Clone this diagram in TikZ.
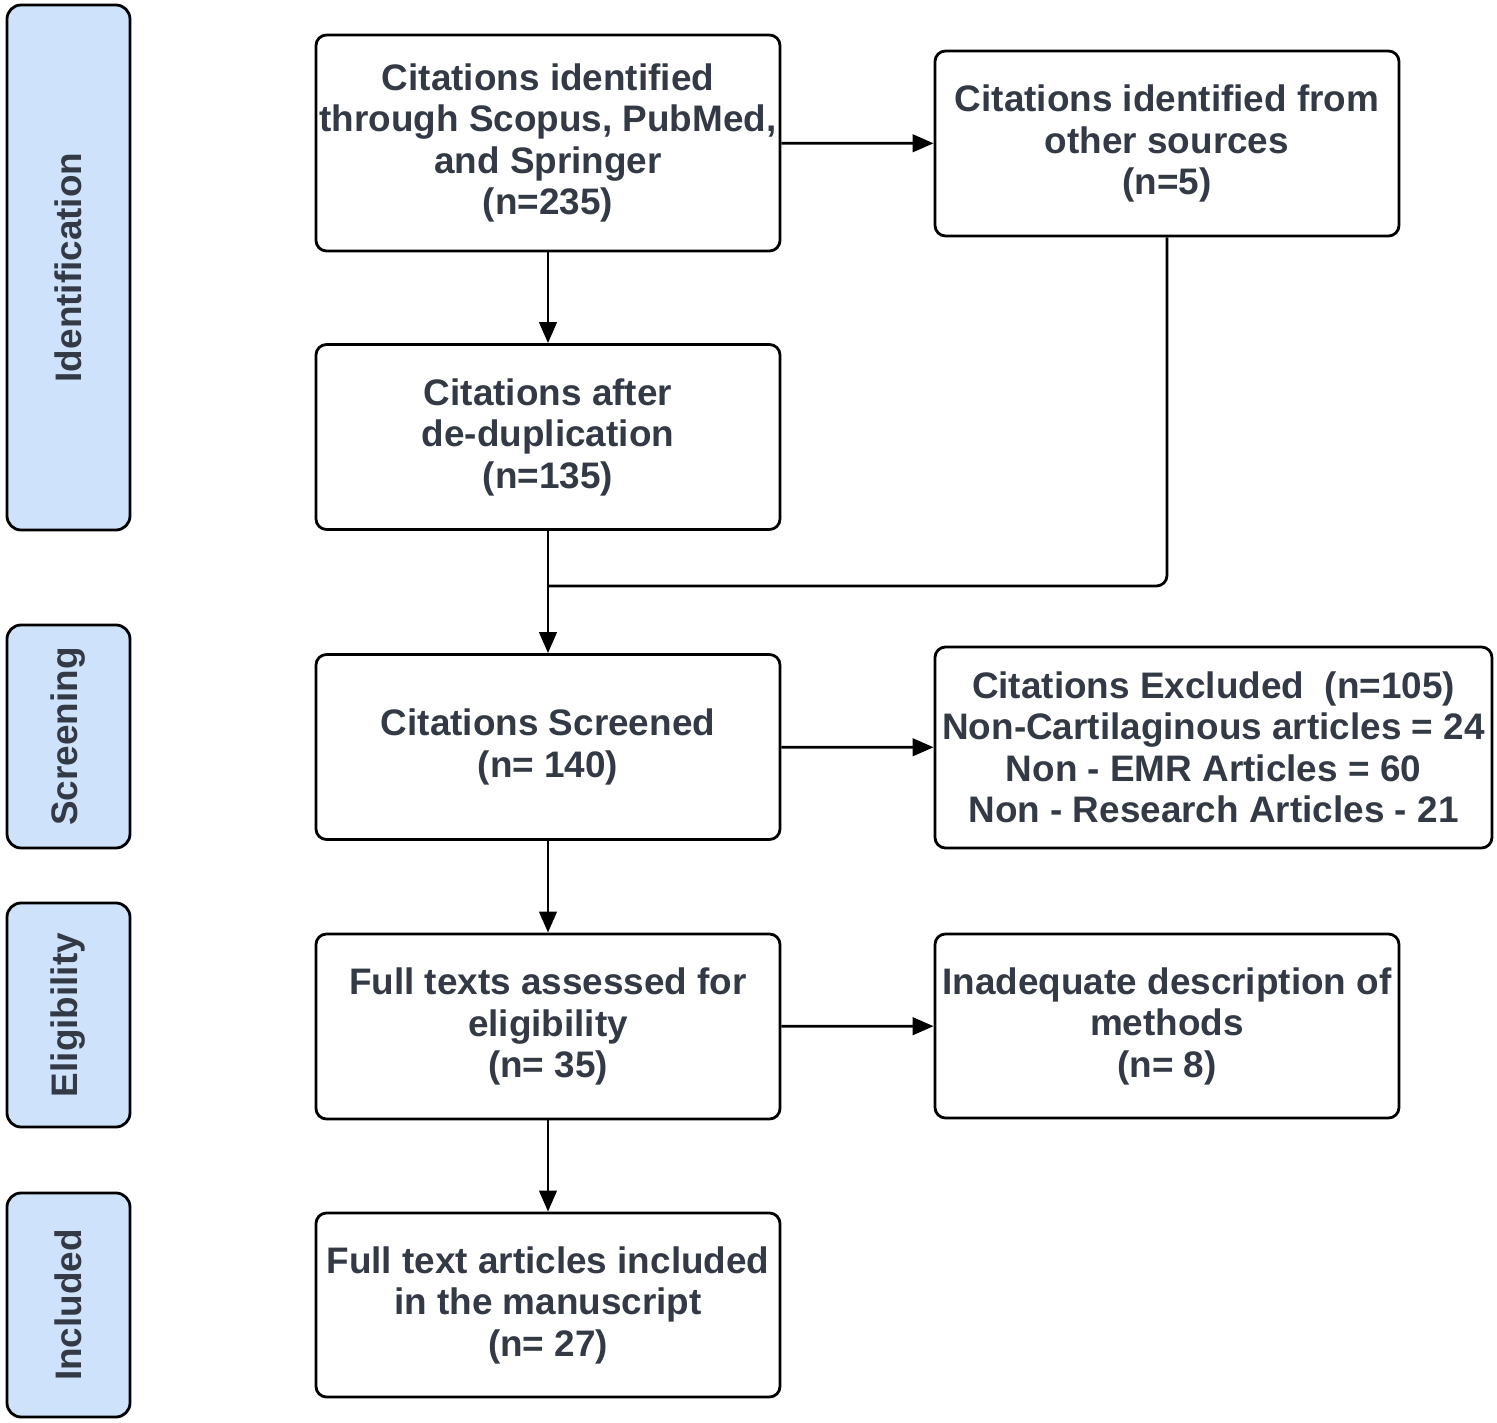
\documentclass[tikz,border=0pt]{standalone}
\usepackage{fontspec}
\setmainfont{Liberation Sans}
\usetikzlibrary{arrows.meta, positioning}
\definecolor{phaseblue}{RGB}{207,226,251}
\definecolor{textgray}{RGB}{51,58,69}

\tikzset{
    box/.style={draw, thick, rounded corners=3pt, align=center, text=textgray,
        font=\fontsize{10.5}{11.8}\selectfont\bfseries, inner sep=0pt},
    phase/.style={draw, thick, rounded corners=4pt, fill=phaseblue, text=textgray,
        font=\fontsize{10.5}{11.8}\selectfont\bfseries, minimum width=1.23cm},
    arr/.style={thick, -{Triangle[length=6pt, width=5pt]}}
}

\begin{document}
\begin{tikzpicture}
    \useasboundingbox (0,0) rectangle (14.97,14.22);

    % phases
    \node[phase, minimum height=5.25cm] (ident) at (0.685,11.545) {};
    \node[rotate=90, text=textgray, font=\fontsize{10.5}{11.8}\selectfont\bfseries] at (ident) {Identification};
    \node[phase, minimum height=2.23cm] (screen) at (0.685,6.855) {};
    \node[rotate=90, text=textgray, font=\fontsize{10.5}{11.8}\selectfont\bfseries] at (screen) {Screening};
    \node[phase, minimum height=2.24cm] (elig) at (0.685,4.07) {};
    \node[rotate=90, text=textgray, font=\fontsize{10.5}{11.8}\selectfont\bfseries] at (elig) {Eligibility};
    \node[phase, minimum height=2.24cm] (incl) at (0.685,1.17) {};
    \node[rotate=90, text=textgray, font=\fontsize{10.5}{11.8}\selectfont\bfseries] at (incl) {Included};

    % boxes
    \node[box, minimum width=4.64cm, minimum height=2.16cm] (found) at (5.48,12.79)
        {Citations identified\\through Scopus, PubMed,\\and Springer\\(n=235)};
    \node[box, minimum width=4.64cm, minimum height=1.85cm] (other) at (11.67,12.785)
        {Citations identified from\\other sources\\(n=5)};
    \node[box, minimum width=4.64cm, minimum height=1.85cm] (dedup) at (5.48,9.85)
        {Citations after\\de-duplication\\(n=135)};
    \node[box, minimum width=4.64cm, minimum height=1.85cm] (screened) at (5.48,6.75)
        {Citations Screened\\(n= 140)};
    \node[box, minimum width=5.57cm, minimum height=2.01cm] (excl) at (12.135,6.745)
        {Citations Excluded\ \ (n=105)\\Non-Cartilaginous articles = 24\\Non - EMR Articles = 60\\Non - Research Articles - 21};
    \node[box, minimum width=4.64cm, minimum height=1.85cm] (full) at (5.48,3.955)
        {Full texts assessed for\\eligibility\\(n= 35)};
    \node[box, minimum width=4.64cm, minimum height=1.84cm] (inad) at (11.67,3.96)
        {Inadequate description of\\methods\\(n= 8)};
    \node[box, minimum width=4.64cm, minimum height=1.84cm] (final) at (5.48,1.17)
        {Full text articles included\\in the manuscript\\(n= 27)};

    \coordinate (merge) at (5.48,8.36);

    % connectors
    \draw[arr] (found) -- (other);
    \draw[arr] (found) -- (dedup);
    \draw[arr] (dedup) -- (screened);
    \draw[thick, rounded corners=3pt] (other.south) |- (merge);
    \draw[arr] (screened) -- (excl);
    \draw[arr] (screened) -- (full);
    \draw[arr] (full) -- (inad);
    \draw[arr] (full) -- (final);
\end{tikzpicture}
\end{document}
